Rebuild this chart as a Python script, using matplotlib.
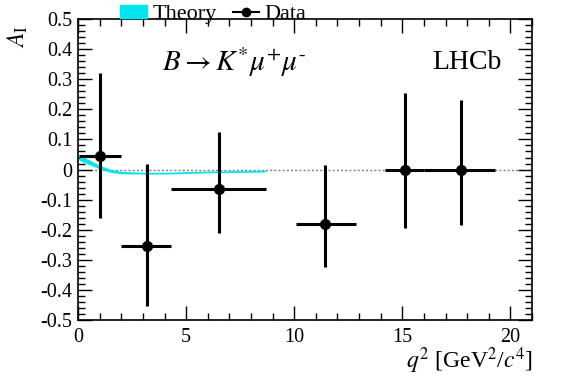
import numpy as np
import matplotlib
matplotlib.use("Agg")
import matplotlib.pyplot as plt
from matplotlib.ticker import MultipleLocator
from matplotlib.patches import Patch
from matplotlib.lines import Line2D

# data points (bin centres, asymmetric errors)
q2 = [1.0, 3.2, 6.5, 11.4, 15.1, 17.7]
q2_lo = [0.05, 2.0, 4.3, 10.09, 14.18, 16.0]
q2_hi = [2.0, 4.3, 8.68, 12.86, 16.0, 19.3]
a_i = [0.045, -0.255, -0.065, -0.18, 0.0, 0.0]
a_i_up = [0.32, 0.02, 0.125, 0.015, 0.255, 0.23]
a_i_dn = [-0.16, -0.455, -0.21, -0.325, -0.195, -0.185]

# theory band
th_q2 = [0.05, 0.5, 1.0, 1.5, 2.0, 3.0, 4.0, 5.0, 6.0, 7.0, 8.0, 8.68]
th_mid = [0.040, 0.025, 0.008, -0.004, -0.010, -0.012, -0.012, -0.010, -0.008, -0.007, -0.006, -0.005]
th_half = [0.009, 0.008, 0.006, 0.005, 0.004, 0.003, 0.003, 0.003, 0.003, 0.003, 0.003, 0.003]

plt.rcParams["font.family"] = ["Liberation Serif", "DejaVu Serif"]
plt.rcParams["mathtext.fontset"] = "stix"

fig = plt.figure(figsize=(5.62, 3.81), dpi=100)
ax = fig.add_axes([0.1388, 0.160, 0.808, 0.790])

ax.axhline(0, color="gray", lw=1, ls=(0, (1.5, 1.5)), zorder=1)

mid = np.array(th_mid)
half = np.array(th_half)
ax.fill_between(th_q2, mid - half, mid + half, color="#00e5ee", lw=0, zorder=2)

x = np.array(q2)
y = np.array(a_i)
xerr = [x - np.array(q2_lo), np.array(q2_hi) - x]
yerr = [y - np.array(a_i_dn), np.array(a_i_up) - y]
ax.errorbar(x, y, xerr=xerr, yerr=yerr, fmt="o", color="black", ms=7,
            elinewidth=2.2, capsize=0, zorder=3)

ax.set_xlim(0, 21)
ax.set_ylim(-0.5, 0.5)
ax.xaxis.set_major_locator(MultipleLocator(5))
ax.xaxis.set_minor_locator(MultipleLocator(1))
ax.yaxis.set_minor_locator(MultipleLocator(0.02))
ax.tick_params(which="both", direction="in", top=True, right=True, labelsize=14.5, width=1)
ax.tick_params(which="major", length=10)
ax.tick_params(which="minor", length=5)
ax.tick_params(axis="x", pad=6)
ax.tick_params(axis="y", pad=4)
ax.set_yticks(np.round(np.arange(-0.5, 0.51, 0.1), 1))
ax.set_yticklabels(["-0.5", "-0.4", "-0.3", "-0.2", "-0.1", "0", "0.1", "0.2", "0.3", "0.4", "0.5"])
for s in ax.spines.values():
    s.set_linewidth(1.2)

ax.text(0.185, 0.857, r"$B\rightarrow K^{*}\mu^{+}\mu^{\text{-}}$", transform=ax.transAxes,
        fontsize=21, va="center")
ax.text(0.932, 0.857, "LHCb", transform=ax.transAxes, fontsize=20, ha="right", va="center")

fig.text(0.032, 0.903, r"$A_{\mathrm{I}}$", rotation=90, fontsize=17, ha="center", va="center")
fig.text(0.948, 0.052, r"$q^{2}$ [GeV$^{2}$/$c^{4}$]", fontsize=17, ha="right", va="center")

handles = [Patch(color="#00e5ee"),
           Line2D([], [], color="black", marker="o", ms=6, lw=1.5)]
fig.legend(handles, ["Theory", "Data"], loc="center", bbox_to_anchor=(0.38, 0.962),
           ncol=2, frameon=False, fontsize=16, handlelength=1.2, handleheight=0.5,
           handletextpad=0.25, columnspacing=0.7, borderpad=0)

fig.savefig("out.png", dpi=100)
